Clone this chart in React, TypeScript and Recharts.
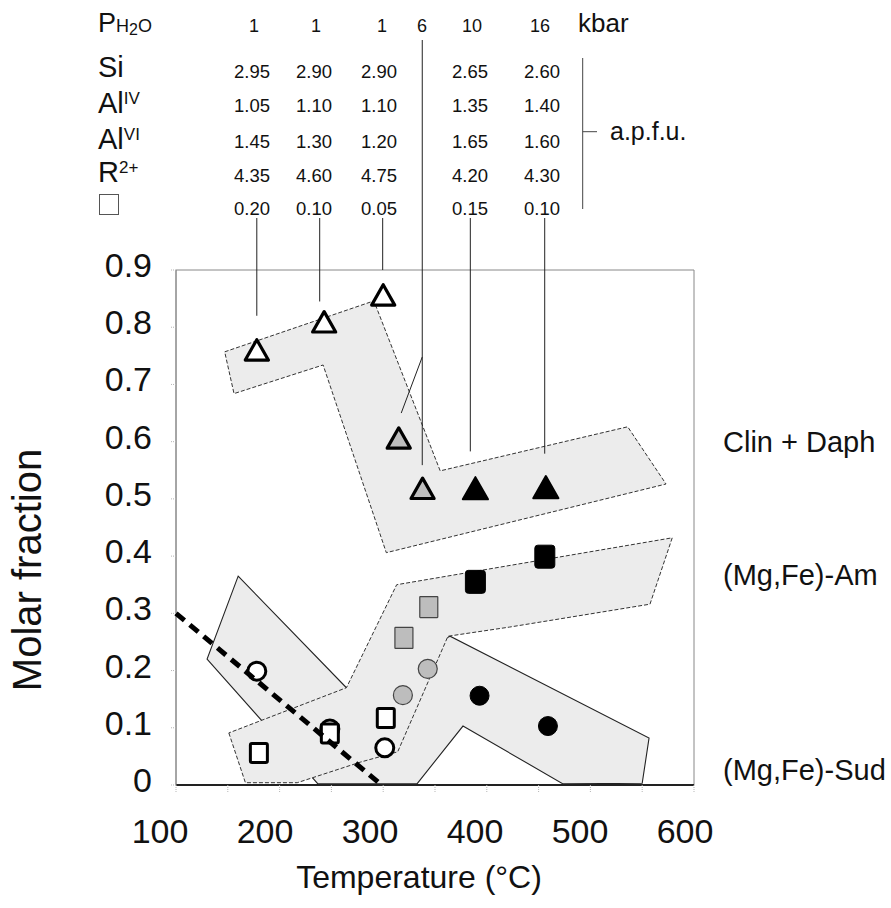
import React from "react"
import { ScatterChart, Scatter, XAxis, YAxis, ReferenceArea } from "recharts"

const FONT = "'Liberation Sans', Arial, Helvetica, sans-serif"
const FIELD_FILL = "#ececec"
const GRAY = "#bdbdbd"

// table above the plot
const pressures = ["1", "1", "1", "6", "10", "16"]
const pressureX = [254, 316, 382, 422, 472, 540]
const valueX = [252, 314, 379, 470, 542]
const siValues = ["2.95", "2.90", "2.90", "2.65", "2.60"]
const alIVValues = ["1.05", "1.10", "1.10", "1.35", "1.40"]
const alVIValues = ["1.45", "1.30", "1.20", "1.65", "1.60"]
const r2Values = ["4.35", "4.60", "4.75", "4.20", "4.30"]
const vacancyValues = ["0.20", "0.10", "0.05", "0.15", "0.10"]
const tableRows = [siValues, alIVValues, alVIValues, r2Values, vacancyValues]
const rowBaselines = [78, 111.5, 148, 181.5, 214.5]

// axes
const xTicks = [100, 150, 200, 250, 300, 350, 400, 450, 500, 550, 600]
const yTicks = [0, 0.1, 0.2, 0.3, 0.4, 0.5, 0.6, 0.7, 0.8, 0.9]

// measured points (temperature °C, molar fraction)
const openTriangles = [
  { temp: 178, frac: 0.759 },
  { temp: 243, frac: 0.808 },
  { temp: 300, frac: 0.855 },
]
const grayTriangles = [
  { temp: 315, frac: 0.605 },
  { temp: 338, frac: 0.517 },
]
const blackTriangles = [
  { temp: 389, frac: 0.517 },
  { temp: 457, frac: 0.519 },
]
const openSquares = [
  { temp: 180, frac: 0.056 },
  { temp: 248.5, frac: 0.09 },
  { temp: 302.5, frac: 0.117 },
]
const graySquares = [
  { temp: 320, frac: 0.257 },
  { temp: 344, frac: 0.311 },
]
const blackSquares = [
  { temp: 389, frac: 0.355 },
  { temp: 456, frac: 0.399 },
]
const openCircles = [
  { temp: 178, frac: 0.199 },
  { temp: 248.5, frac: 0.098 },
  { temp: 301.5, frac: 0.065 },
]
const grayCircles = [
  { temp: 319, frac: 0.157 },
  { temp: 343, frac: 0.203 },
]
const blackCircles = [
  { temp: 393, frac: 0.156 },
  { temp: 459, frac: 0.103 },
]

// shaded fields (polygon outlines)
const clinField = [
  { temp: 147, frac: 0.757 },
  { temp: 291, frac: 0.846 },
  { temp: 355, frac: 0.549 },
  { temp: 536, frac: 0.626 },
  { temp: 573, frac: 0.526 },
  { temp: 303, frac: 0.406 },
  { temp: 242, frac: 0.734 },
  { temp: 156, frac: 0.684 },
]
const amField = [
  { temp: 151, frac: 0.091 },
  { temp: 167, frac: 0.004 },
  { temp: 217, frac: 0.004 },
  { temp: 278, frac: 0.04 },
  { temp: 314, frac: 0.058 },
  { temp: 362.5, frac: 0.26 },
  { temp: 422, frac: 0.276 },
  { temp: 557.5, frac: 0.316 },
  { temp: 579, frac: 0.432 },
  { temp: 313, frac: 0.35 },
  { temp: 264.5, frac: 0.17 },
]
const sudField = [
  { temp: 160, frac: 0.365 },
  { temp: 264.5, frac: 0.17 },
  { temp: 364.5, frac: 0.26 },
  { temp: 556.6, frac: 0.082 },
  { temp: 550, frac: 0.003 },
  { temp: 473.6, frac: 0.002 },
  { temp: 377, frac: 0.103 },
  { temp: 332.6, frac: 0.002 },
  { temp: 237, frac: 0.002 },
  { temp: 130, frac: 0.22 },
]

// thick dashed boundary
const dashedBoundary = [
  { temp: 100, frac: 0.3 },
  { temp: 298.5, frac: 0 },
]

// leader lines from the table down to the points
const leaderEnds = [
  { temp: 178, frac: 0.82 },
  { temp: 238.7, frac: 0.845 },
  { temp: 299.5, frac: 0.9 },
  { temp: 384.1, frac: 0.583 },
  { temp: 455.9, frac: 0.579 },
]
const leader6kbar = [{ temp: 337.7, frac: 0.559 }]
const pointer6kbar = [
  { temp: 337.7, frac: 0.748 },
  { temp: 317.4, frac: 0.65 },
]
const LEADER_TOP = 218
const LEADER6_TOP = 40

const W = 891
const H = 908

const noShape = () => <g />

const triangle = (fill: string, sw: number, s: number) => (p: any) => {
  const { cx, cy } = p
  return (
    <path
      d={`M${cx},${cy - s} L${cx + s * 1.05},${cy + s * 0.85} L${cx - s * 1.05},${cy + s * 0.85} Z`}
      fill={fill}
      stroke="#000"
      strokeWidth={sw}
      strokeLinejoin="round"
    />
  )
}

const square = (fill: string, stroke: string, sw: number, w: number, h: number, rx: number) => (p: any) => {
  const { cx, cy } = p
  return <rect x={cx - w / 2} y={cy - h / 2} width={w} height={h} rx={rx} fill={fill} stroke={stroke} strokeWidth={sw} />
}

const circle = (fill: string, stroke: string, sw: number, r: number) => (p: any) => {
  const { cx, cy } = p
  return <circle cx={cx} cy={cy} r={r} fill={fill} stroke={stroke} strokeWidth={sw} />
}

const leader = (top: number) => (p: any) => {
  const { cx, cy } = p
  return <line x1={cx} x2={cx} y1={top} y2={cy} stroke="#222" strokeWidth={1} />
}

function XTick(props: any) {
  const { x, y, payload } = props
  const v = payload.value
  const shift = -16 + (v - 100) * 0.014
  return (
    <g>
      <line x1={x} x2={x} y1={y} y2={y + 8} stroke="#b5b5b5" strokeDasharray="1 1" />
      {v % 100 === 0 && (
        <text x={x + shift} y={y + 58} textAnchor="middle" fontSize={34} fontFamily={FONT} fill="#111">
          {v}
        </text>
      )}
    </g>
  )
}

function YTick(props: any) {
  const { x, y, payload } = props
  const v = payload.value
  return (
    <g>
      <line x1={x - 5} x2={x} y1={y} y2={y} stroke="#b5b5b5" strokeDasharray="1 1" />
      <text x={x - 24} y={y + 7} textAnchor="end" fontSize={34} fontFamily={FONT} fill="#111">
        {v === 0 ? "0" : v.toFixed(1)}
      </text>
    </g>
  )
}

function TableOverlay() {
  const labelFont = { fontFamily: FONT, fill: "#111" }
  return (
    <svg width={W} height={H} style={{ position: "absolute", left: 0, top: 0, pointerEvents: "none" }}>
      <text x={98} y={31.7} fontSize={27} {...labelFont}>
        P<tspan fontSize={18}>H</tspan>
        <tspan fontSize={16} dy={3}>2</tspan>
        <tspan fontSize={18} dy={-3}>O</tspan>
      </text>
      {pressures.map((p, i) => (
        <text key={i} x={pressureX[i]} y={31.7} fontSize={18} textAnchor="middle" {...labelFont}>
          {p}
        </text>
      ))}
      <text x={578} y={31.7} fontSize={26} {...labelFont}>kbar</text>

      <text x={98} y={76.5} fontSize={29} {...labelFont}>Si</text>
      <text x={98} y={112.5} fontSize={29} {...labelFont}>
        Al<tspan fontSize={17} dy={-9}>IV</tspan>
      </text>
      <text x={98} y={149} fontSize={29} {...labelFont}>
        Al<tspan fontSize={17} dy={-9}>VI</tspan>
      </text>
      <text x={98} y={181.5} fontSize={29} {...labelFont}>
        R<tspan fontSize={17} dy={-9}>2+</tspan>
      </text>
      <rect x={99.5} y={194.5} width={19} height={20} fill="none" stroke="#555" strokeWidth={1} />

      {tableRows.map((row, r) =>
        row.map((v, c) => (
          <text key={`${r}-${c}`} x={valueX[c]} y={rowBaselines[r]} fontSize={18.5} textAnchor="middle" {...labelFont}>
            {v}
          </text>
        ))
      )}

      <line x1={582.7} x2={582.7} y1={58} y2={209} stroke="#444" strokeWidth={1} />
      <line x1={582.7} x2={597} y1={131.7} y2={131.7} stroke="#444" strokeWidth={1} />
      <text x={610} y={140} fontSize={25} {...labelFont}>a.p.f.u.</text>

      <text x={723} y={451.7} fontSize={29} {...labelFont}>Clin + Daph</text>
      <text x={723} y={585} fontSize={29} {...labelFont}>(Mg,Fe)-Am</text>
      <text x={723} y={780} fontSize={29} {...labelFont}>(Mg,Fe)-Sud</text>

      <text x={419} y={888} fontSize={32} textAnchor="middle" {...labelFont}>Temperature (°C)</text>
      <text x={41} y={570} fontSize={40} textAnchor="middle" transform="rotate(-90 41 570)" {...labelFont}>
        Molar fraction
      </text>
    </svg>
  )
}

export default function App() {
  return (
    <div style={{ position: "absolute", left: 0, top: 0, width: W, height: H, background: "#fff" }}>
      <ScatterChart width={W} height={H} margin={{ top: 270, right: 197, bottom: 63, left: 96 }}>
        <XAxis
          type="number"
          dataKey="temp"
          domain={[100, 600]}
          ticks={xTicks}
          interval={0}
          height={60}
          tickSize={0}
          tickMargin={0}
          tickLine={false}
          axisLine={{ stroke: "#222", strokeWidth: 2 }}
          tick={<XTick />}
        />
        <YAxis
          type="number"
          dataKey="frac"
          domain={[0, 0.9]}
          ticks={yTicks}
          interval={0}
          width={80}
          tickSize={0}
          tickMargin={0}
          tickLine={false}
          axisLine={{ stroke: "#888", strokeWidth: 1 }}
          tick={<YTick />}
        />
        <ReferenceArea x1={100} x2={600} y1={0} y2={0.9} fill="none" stroke="#888" strokeWidth={1} fillOpacity={0} />

        <Scatter
          data={sudField}
          shape={noShape}
          line={{ fill: FIELD_FILL, stroke: "#222", strokeWidth: 1.1 }}
          lineJointType="linearClosed"
          isAnimationActive={false}
        />
        <Scatter
          data={amField}
          shape={noShape}
          line={{ fill: FIELD_FILL, stroke: "#333", strokeWidth: 1, strokeDasharray: "4 2" }}
          lineJointType="linearClosed"
          isAnimationActive={false}
        />
        <Scatter
          data={clinField}
          shape={noShape}
          line={{ fill: FIELD_FILL, stroke: "#333", strokeWidth: 1, strokeDasharray: "4 2" }}
          lineJointType="linearClosed"
          isAnimationActive={false}
        />

        <Scatter data={leaderEnds} shape={leader(LEADER_TOP)} isAnimationActive={false} />
        <Scatter data={leader6kbar} shape={leader(LEADER6_TOP)} isAnimationActive={false} />
        <Scatter
          data={pointer6kbar}
          shape={noShape}
          line={{ stroke: "#222", strokeWidth: 1 }}
          lineJointType="linear"
          isAnimationActive={false}
        />

        <Scatter data={openCircles} shape={circle("#fff", "#000", 3, 9)} isAnimationActive={false} />
        <Scatter data={grayCircles} shape={circle(GRAY, "#444", 1.2, 9.5)} isAnimationActive={false} />
        <Scatter data={blackCircles} shape={circle("#000", "#000", 1, 9.5)} isAnimationActive={false} />
        <Scatter data={openSquares} shape={square("#fff", "#000", 3, 17, 19, 1.5)} isAnimationActive={false} />
        <Scatter data={graySquares} shape={square(GRAY, "#444", 1.2, 18, 21, 0.5)} isAnimationActive={false} />
        <Scatter data={blackSquares} shape={square("#000", "#000", 1, 20, 23, 3)} isAnimationActive={false} />
        <Scatter data={openTriangles} shape={triangle("#fff", 3.2, 11)} isAnimationActive={false} />
        <Scatter data={grayTriangles} shape={triangle(GRAY, 3.2, 11)} isAnimationActive={false} />
        <Scatter data={blackTriangles} shape={triangle("#000", 2, 12)} isAnimationActive={false} />

        <Scatter
          data={dashedBoundary}
          shape={noShape}
          line={{ stroke: "#000", strokeWidth: 5, strokeDasharray: "11 7" }}
          lineJointType="linear"
          isAnimationActive={false}
        />
      </ScatterChart>
      <TableOverlay />
    </div>
  )
}
